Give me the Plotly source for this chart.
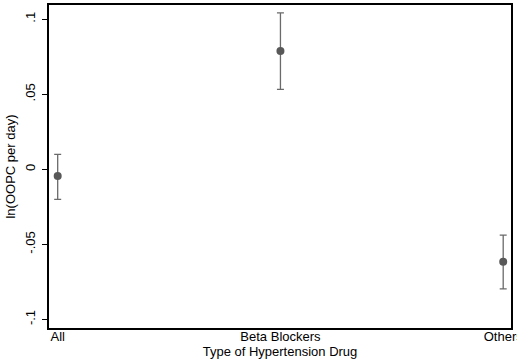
import plotly.graph_objects as go

categories = ["All", "Beta Blockers", "Others"]
estimates = [-0.0045, 0.0789, -0.0616]
ci_low = [-0.0200, 0.0533, -0.0796]
ci_high = [0.0100, 0.1042, -0.0438]
y_ticks = [-0.1, -0.05, 0, 0.05, 0.1]
y_tick_labels = ["-.1", "-.05", "0", ".05", ".1"]

xpos = list(range(len(categories)))
err_plus = [h - e for h, e in zip(ci_high, estimates)]
err_minus = [e - l for e, l in zip(estimates, ci_low)]

fig = go.Figure()
fig.add_trace(go.Scatter(
    x=xpos, y=estimates, mode="markers",
    marker=dict(color="#585858", size=8),
    error_y=dict(type="data", symmetric=False, array=err_plus, arrayminus=err_minus,
                 color="#6a6a6a", thickness=1.3, width=3.5),
    showlegend=False,
))

font = dict(family="Liberation Sans, Arial, sans-serif", size=13, color="black")
fig.update_layout(
    width=517, height=364,
    margin=dict(l=49, r=6, t=5, b=36),
    paper_bgcolor="white", plot_bgcolor="white",
    font=font,
    xaxis=dict(
        range=[-0.039, 2.035], tickvals=xpos, ticktext=categories,
        showgrid=False, zeroline=False, showline=True, linecolor="black", linewidth=1.5,
        mirror=True, ticks="", ticklen=0, ticklabeloverflow="allow", automargin=False,
        ticklabelstandoff=-4,
        title=dict(text="Type of Hypertension Drug", standoff=0, font=font),
    ),
    yaxis=dict(
        range=[-0.1057, 0.1095], tickvals=y_ticks, ticktext=y_tick_labels,
        tickangle=-90, showgrid=False, zeroline=False, showline=True, linecolor="black",
        linewidth=1.5, mirror=True, ticks="outside", ticklen=5, tickcolor="black",
        ticklabelstandoff=2, automargin=False,
        title=dict(text="ln(OOPC per day)", standoff=4, font=font),
    ),
)
fig.write_html("out.html")
